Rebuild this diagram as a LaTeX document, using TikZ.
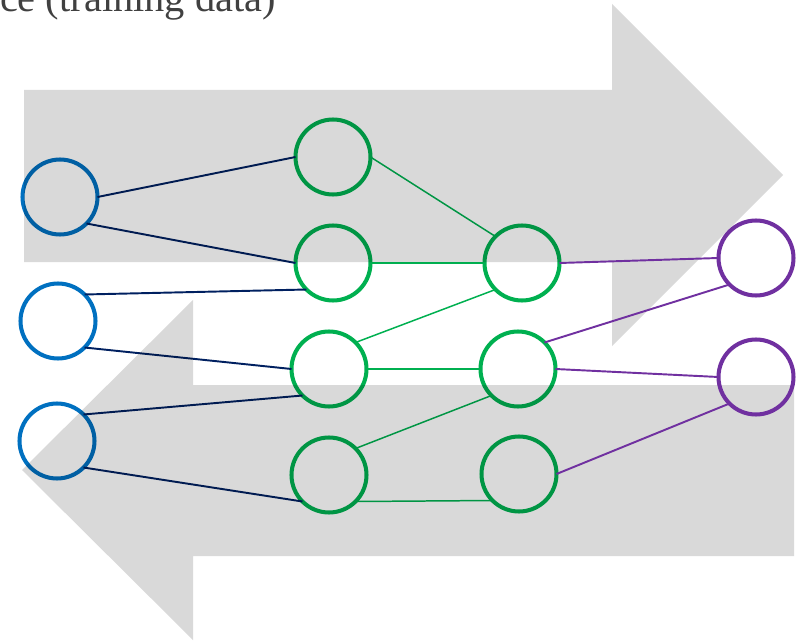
\documentclass[tikz,border=0pt]{standalone}
\usepackage{fontspec}
\setmainfont{Liberation Serif}
\usepackage{tikz}
\usetikzlibrary{positioning}

\definecolor{inblue}{HTML}{0070C0}
\definecolor{hidgreen}{HTML}{00B050}
\definecolor{outpurple}{HTML}{7030A0}
\definecolor{darkline}{HTML}{002060}
\definecolor{titlegray}{HTML}{404040}

\begin{document}
\begin{tikzpicture}[x=0.02cm, y=0.02cm]
\tikzstyle{every node}+=[inner sep=0pt, outer sep=0pt]
\tikzstyle{neuron}=[circle, minimum size=1.5cm, line width=2.3pt]
\tikzstyle{flow}=[fill=black, fill opacity=0.15]
\useasboundingbox (0,0) rectangle (802,-642);
\node [anchor=base west, text=titlegray, font=\fontsize{23}{28}\selectfont] (title) at (0,-12) {ce (training data)};
% input layer
\node [neuron, draw=inblue] (i1) at (60,-197) {};
\node [neuron, draw=inblue] (i2) at (58,-321) {};
\node [neuron, draw=inblue] (i3) at (57,-441) {};
% first hidden layer
\node [neuron, draw=hidgreen] (h1) at (333,-157) {};
\node [neuron, draw=hidgreen] (h2) at (333,-263) {};
\node [neuron, draw=hidgreen] (h3) at (329,-369) {};
\node [neuron, draw=hidgreen] (h4) at (329,-475) {};
% second hidden layer
\node [neuron, draw=hidgreen] (g1) at (522,-263) {};
\node [neuron, draw=hidgreen] (g2) at (518,-369) {};
\node [neuron, draw=hidgreen] (g3) at (519,-474) {};
% input to hidden
\draw [darkline, line width=1.1pt] (i1.east) -- (h1.west);
\draw [darkline, line width=1.1pt] (i1.south east) -- (h2.west);
\draw [darkline, line width=1.1pt] (i2.north east) -- (h2.south west);
\draw [darkline, line width=1.1pt] (i2.south east) -- (h3.west);
\draw [darkline, line width=1.1pt] (i3.north east) -- (h3.south west);
\draw [darkline, line width=1.1pt] (i3.south east) -- (h4.south west);
% hidden to hidden
\draw [hidgreen, line width=0.85pt] (h1.east) -- (g1.north west);
\draw [hidgreen, line width=0.85pt] (h2.east) -- (g1.west);
\draw [hidgreen, line width=0.85pt] (h3.north east) -- (g1.south west);
\draw [hidgreen, line width=0.85pt] (h3.east) -- (g2.west);
\draw [hidgreen, line width=0.85pt] (h4.north east) -- (g2.south west);
\draw [hidgreen, line width=0.85pt] (h4.south east) -- (g3.south west);
% big arrows
\path [flow] (24,-90) -- (612,-90) -- (612,-4) -- (783,-175) -- (612,-346) -- (612,-262) -- (24,-262) -- cycle;
\path [flow] (794,-385) -- (193,-385) -- (193,-300) -- (22,-470) -- (193,-640) -- (193,-556) -- (794,-556) -- cycle;
% output layer
\node [neuron, draw=outpurple, fill=white] (o1) at (756,-258) {};
\node [neuron, draw=outpurple] (o2) at (756,-377) {};
\draw [outpurple, line width=1.1pt] (g1.east) -- (o1.west);
\draw [outpurple, line width=1.1pt] (g2.north east) -- (o1.south west);
\draw [outpurple, line width=1.1pt] (g2.east) -- (o2.west);
\draw [outpurple, line width=1.1pt] (g3.east) -- (o2.south west);
\end{tikzpicture}
\end{document}
